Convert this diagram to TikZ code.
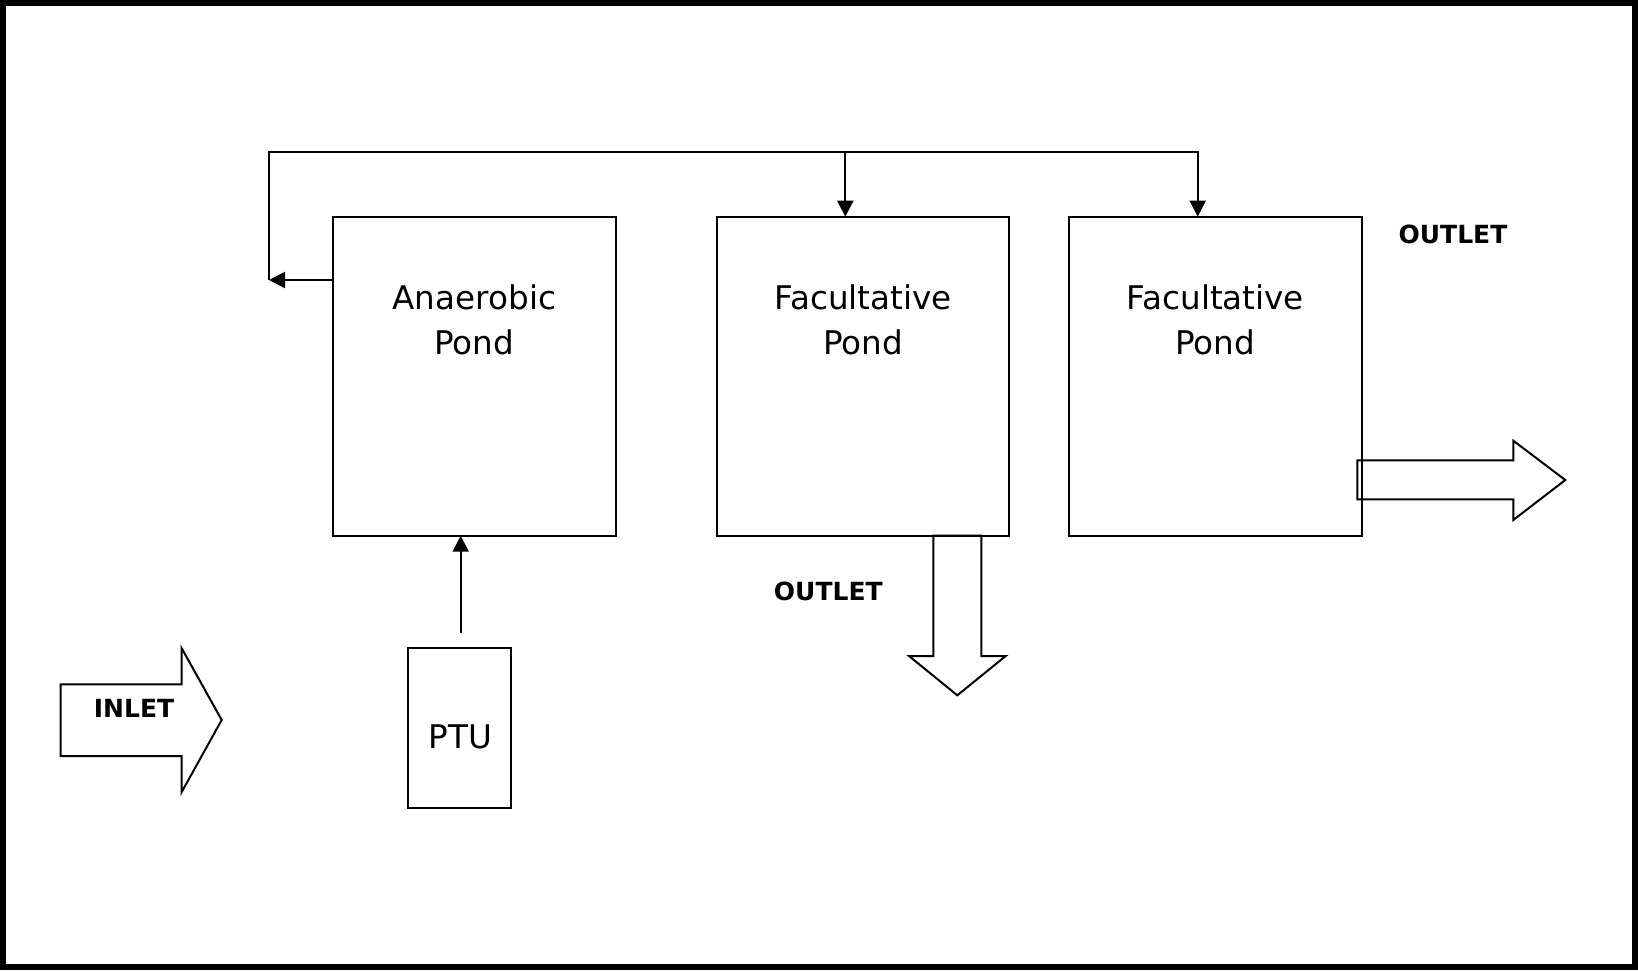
\documentclass[tikz,border=0pt]{standalone}
\usepackage{fontspec}
\setmainfont{DejaVu Sans}
\usetikzlibrary{arrows.meta}
\begin{document}
\begin{tikzpicture}[x=1pt,y=-1pt,
  line width=2pt,
  pond/.style={draw,line width=2pt,inner sep=0pt,outer sep=0pt,minimum height=319pt},
  ptubox/.style={draw,line width=2pt,inner sep=0pt,outer sep=0pt,minimum width=102.7pt,minimum height=160pt},
  lbl/.style={inner sep=0pt,align=center,font=\fontsize{32.6}{45}\selectfont},
  blbl/.style={inner sep=0pt,font=\fontsize{25}{30}\selectfont\bfseries},
  arr/.style={line width=2pt,-{Triangle[length=16pt,width=16pt]}},
  blockarrow/.style={draw,line width=2pt,line join=miter}
]
\useasboundingbox (0,0) rectangle (1638,970);
\draw[line width=6pt] (3,3) rectangle (1635,967);

% ponds
\node[pond,minimum width=282.7pt] (b1) at (474.3,376.2) {};
\node[pond,minimum width=292.5pt] (b2) at (863.2,376.2) {};
\node[pond,minimum width=292.5pt] (b3) at (1215.3,376.2) {};
\node[ptubox] (ptu) at (459.7,728.3) {};

\node[lbl] (t1) at (474.3,319.5) {Anaerobic\\Pond};
\node[lbl] (t2) at (863.2,319.5) {Facultative\\Pond};
\node[lbl] (t3) at (1215.3,319.5) {Facultative\\Pond};
\node[lbl] (tp) at (460.3,737) {PTU};

\node[blbl] (o1) at (1453,234) {OUTLET};
\node[blbl] (o2) at (828.3,591) {OUTLET};
\node[blbl] (in) at (134,708.3) {INLET};

% feedback connectors
\coordinate (fbL) at (269,280);
\coordinate (fbT) at (269,152.3);
\coordinate (x2) at (845.3,152.3);
\coordinate (x3) at (1197.7,152.3);
\draw[arr] (b1.west |- fbL) -- (fbL);
\draw[arr] (fbL) -- (fbT) -| (x3 |- b3.north);
\draw[arr] (x2) -- (x2 |- b2.north);

% PTU to anaerobic
\coordinate (pa) at (460.7,633.3);
\draw[arr] (pa) -- (pa |- b1.south);

% block arrows
\draw[blockarrow] (60.7,684.3) -- (181.7,684.3) -- (181.7,648.3) -- (221.7,720) -- (181.7,792) -- (181.7,756) -- (60.7,756) -- cycle;
\draw[blockarrow] (1357.3,460.3) -- (1513.3,460.3) -- (1513.3,440.7) -- (1565.3,480) -- (1513.3,520) -- (1513.3,499.3) -- (1357.3,499.3) -- cycle;
\draw[blockarrow] (933.3,535.7) -- (933.3,656) -- (909,656) -- (957.3,695.3) -- (1005.7,656) -- (981.3,656) -- (981.3,535.7) -- cycle;
\end{tikzpicture}
\end{document}
